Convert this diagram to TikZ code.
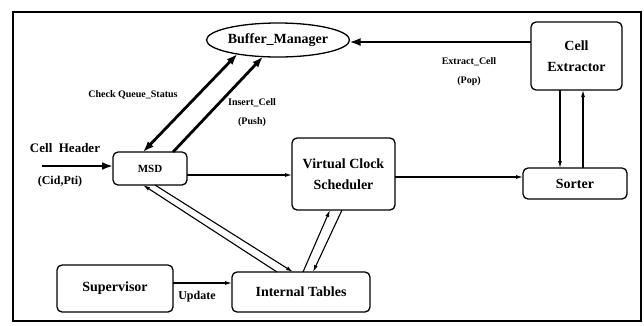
\documentclass[tikz,border=0pt]{standalone}
\usepackage{fontspec}
\setmainfont{Liberation Serif}
\usetikzlibrary{arrows.meta, positioning, shapes.geometric, calc}

\begin{document}
\begin{tikzpicture}[x=1pt, y=-1pt,
    blk/.style={draw, line width=1.3pt, rounded corners=5pt, align=center,
      font=\fontsize{14}{21}\selectfont\bfseries, inner sep=2pt, outer sep=0pt},
    bm/.style={draw, ellipse, line width=1.3pt, inner sep=0pt, outer sep=0pt,
      font=\fontsize{14}{16}\selectfont\bfseries},
    lbl/.style={font=\fontsize{10}{19}\selectfont\bfseries, align=center},
    bus/.style={line width=2.8pt, >={Latex[length=11pt,width=8pt]}},
    flow/.style={line width=1.1pt, >={Latex[length=7pt,width=4pt]}}]
  \useasboundingbox (0,0) rectangle (644,325);
  % khung ngoai
  \draw[line width=1.3pt] (13,12) rectangle (641,321);

  % cac khoi
  \node[bm, minimum width=143pt, minimum height=34pt] (buf) at (278,40) {Buffer\_Manager};
  \node[blk, font=\fontsize{11}{13}\selectfont\bfseries,
        minimum width=74pt, minimum height=33pt] (msd) at (150,168.5) {MSD};
  \node[blk, minimum width=103pt, minimum height=72pt] (vcs) at (343.5,174) {Virtual Clock\\Scheduler};
  \node[blk, minimum width=91pt, minimum height=68pt] (ext) at (576.5,56) {Cell\\Extractor};
  \node[blk, minimum width=104pt, minimum height=31pt] (sort) at (575,183.5) {Sorter};
  \node[blk, minimum width=116pt, minimum height=47pt] (sup) at (115,288.5) {Supervisor};
  \node[blk, minimum width=138pt, minimum height=40pt] (tab) at (301,292) {Internal Tables};

  % dau vao
  \node[font=\fontsize{13}{15}\selectfont\bfseries] (hdr) at (65,148) {Cell\ \ Header};
  \node[font=\fontsize{12}{14}\selectfont\bfseries] (cid) at (60,182) {(Cid,Pti)};
  \coordinate (hin) at (42,166);
  \draw[bus,->] (hin) -- (hin -| msd.west);

  % MSD <-> Buffer_Manager
  \draw[bus,<->] ([xshift=-7pt]msd.north) -- (buf.199);
  \draw[bus,->] ([xshift=23pt]msd.north) -- (buf.228);
  \node[lbl] (chk) at (133,95) {Check Queue\_Status};
  \node[lbl] (ins) at (252,113) {Insert\_Cell\\(Push)};

  % MSD <-> Internal Tables
  \draw[flow,->] ([xshift=-24pt]tab.north) -- ([xshift=-7pt]msd.south);
  \draw[flow,->] ([xshift=5pt]msd.south) -- ([xshift=-8pt]tab.north);

  % Scheduler <-> Internal Tables
  \draw[flow,->] ([xshift=2pt]tab.north) -- ([xshift=-13.5pt]vcs.south);
  \draw[flow,->] ([xshift=-1.5pt]vcs.south) -- ([xshift=12pt]tab.north);

  % luong chinh
  \draw[flow,->] ([yshift=-6.5pt]msd.east) -- ([yshift=-1pt]vcs.west);
  \draw[flow,->] ([yshift=-3pt]vcs.east) -- ([yshift=6.5pt]sort.west);

  % Cell Extractor
  \draw[bus,->] ([yshift=14pt]ext.west) -- ([yshift=-2pt]buf.east);
  \node[lbl] (xtr) at (469,72) {Extract\_Cell\\(Pop)};
  \draw[flow,->] ([xshift=-16.5pt]ext.south) -- ([xshift=-15pt]sort.north);
  \draw[flow,->] ([xshift=8pt]sort.north) -- ([xshift=6.5pt]ext.south);

  % Supervisor
  \draw[flow,->] ([yshift=5.5pt]sup.east) -- ([yshift=9pt]tab.west);
  \node[font=\fontsize{12}{14}\selectfont\bfseries] (upd) at (197,297) {Update};
\end{tikzpicture}
\end{document}
